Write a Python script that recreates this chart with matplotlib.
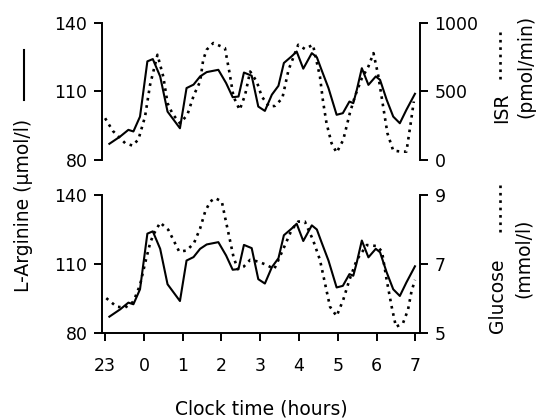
"""
plot.py
=======
L-arginine overnight profile against insulin secretion rate (top)
and plasma glucose (bottom).
"""

import matplotlib
matplotlib.use("Agg")
import matplotlib.pyplot as plt
from matplotlib.lines import Line2D

plt.rcParams["font.family"] = ["DejaVu Sans"]

# hours elapsed since 23:00
hour_ticks = [0, 1, 2, 3, 4, 5, 6, 7, 8]
hour_labels = ["23", "0", "1", "2", "3", "4", "5", "6", "7"]

# L-arginine (umol/l), same trace in both panels
arg_t = [0.11, 0.39, 0.60, 0.73, 0.90, 1.09, 1.23, 1.42, 1.61, 1.93, 2.10, 2.28,
         2.45, 2.62, 2.92, 3.12, 3.29, 3.44, 3.58, 3.78, 3.95, 4.12, 4.30, 4.47,
         4.61, 4.81, 4.94, 5.11, 5.33, 5.46, 5.58, 5.76, 5.97, 6.13, 6.30, 6.40,
         6.49, 6.62, 6.79, 6.98, 7.09, 7.26, 7.43, 7.60, 7.77, 7.99]
arginine = [87.1, 90.3, 93.2, 92.5, 99.0, 123.2, 124.2, 116.6, 101.2, 93.9, 111.5,
            113.0, 116.6, 118.5, 119.5, 113.7, 107.5, 107.8, 118.3, 116.9, 103.4,
            101.5, 108.6, 112.5, 122.5, 125.4, 127.5, 120.0, 126.8, 125.0, 119.5,
            111.5, 99.8, 100.5, 105.6, 104.9, 110.7, 120.2, 112.9, 116.6, 115.1,
            106.4, 99.0, 96.1, 102.0, 109.0]

# insulin secretion rate (pmol/min)
isr_t = [0.00, 0.20, 0.52, 0.71, 0.86, 1.03, 1.16, 1.35, 1.50, 1.61, 1.74, 1.93,
         2.12, 2.29, 2.45, 2.53, 2.62, 2.79, 3.09, 3.21, 3.31, 3.47, 3.61, 3.74,
         3.91, 4.04, 4.23, 4.38, 4.57, 4.73, 4.98, 5.15, 5.36, 5.54, 5.62, 5.71,
         5.84, 5.97, 6.14, 6.31, 6.44, 6.62, 6.79, 6.92, 7.04, 7.17, 7.28, 7.43,
         7.65, 7.77, 7.88, 7.96]
isr = [305, 212, 122, 105, 151, 317, 549, 768, 609, 415, 336, 268, 329, 475, 573,
       732, 805, 854, 817, 634, 463, 366, 475, 646, 573, 463, 390, 395, 451, 658,
       841, 810, 841, 609, 427, 268, 122, 54, 146, 341, 463, 597, 683, 780, 622,
       390, 195, 68, 61, 61, 268, 427]

# plasma glucose (mmol/l)
glu_t = [0.03, 0.30, 0.52, 0.73, 0.90, 1.03, 1.16, 1.24, 1.42, 1.63, 1.76, 1.91,
         2.10, 2.29, 2.45, 2.58, 2.71, 2.84, 3.01, 3.09, 3.21, 3.31, 3.42, 3.57,
         3.74, 3.95, 4.17, 4.36, 4.47, 4.64, 4.81, 4.98, 5.15, 5.36, 5.54, 5.67,
         5.80, 5.97, 6.14, 6.30, 6.49, 6.75, 7.01, 7.14, 7.26, 7.39, 7.50, 7.68,
         7.81, 7.90, 7.99]
glucose = [6.01, 5.76, 5.74, 5.91, 6.39, 7.02, 7.60, 7.84, 8.20, 7.99, 7.70, 7.36,
           7.39, 7.60, 8.03, 8.52, 8.81, 8.91, 8.81, 8.37, 7.74, 7.21, 6.85, 6.92,
           7.12, 7.07, 6.97, 6.85, 7.12, 7.55, 7.99, 8.23, 8.23, 7.70, 7.12, 6.44,
           5.76, 5.49, 5.96, 6.54, 7.12, 7.55, 7.52, 7.36, 6.54, 5.76, 5.18, 5.28,
           5.67, 6.20, 6.54]

W, H = 536, 419
DOT = (0, (1, 1.8))
DOT_W = 1.9
SOLID_W = 1.5
SPINE_W = 1.4


def style_axis(ax, side, bottom=False):
    """Keep only the wanted spines, ticks pointing outward."""
    for name, sp in ax.spines.items():
        sp.set_visible(name == side or (bottom and name == "bottom"))
        sp.set_linewidth(SPINE_W)
    ax.tick_params(axis="y", direction="out", length=5.5, width=SPINE_W,
                   pad=5, labelsize=12.5, left=(side == "left"),
                   labelleft=(side == "left"), right=(side == "right"),
                   labelright=(side == "right"))
    ax.tick_params(axis="x", bottom=bottom, labelbottom=bottom,
                   direction="out", length=6, width=SPINE_W, pad=11,
                   labelsize=12.5)


fig = plt.figure(figsize=(W / 100, H / 100), dpi=100)
left, width = 102 / W, (420 - 102) / W
ax_top = fig.add_axes([left, 1 - 160 / H, width, 137 / H])
ax_bot = fig.add_axes([left, 1 - 333 / H, width, 138 / H])

for ax, t2, y2, lim2, ticks2 in [
        (ax_top, isr_t, isr, (0, 1000), [0, 500, 1000]),
        (ax_bot, glu_t, glucose, (5, 9), [5, 7, 9])]:
    ax.plot(arg_t, arginine, color="black", linewidth=SOLID_W)
    ax.set_ylim(80, 140)
    ax.set_yticks([80, 110, 140])
    ax.set_xlim(-0.08, 8.12)
    ax.set_xticks(hour_ticks)
    ax.set_xticklabels(hour_labels)

    ax2 = ax.twinx()
    ax2.plot(t2, y2, color="black", linewidth=DOT_W, linestyle=DOT)
    ax2.set_ylim(*lim2)
    ax2.set_yticks(ticks2)

    is_bottom = ax is ax_bot
    style_axis(ax, "left", bottom=is_bottom)
    style_axis(ax2, "right", bottom=False)
    if is_bottom:
        ax.spines["bottom"].set_visible(True)
        ax2.spines["bottom"].set_visible(False)

# axis titles with little line-style keys
fig.text(24 / W, 1 - 205 / H, "L-Arginine (\u03bcmol/l)", rotation=90,
         ha="center", va="center", fontsize=13.5)
fig.add_artist(Line2D([24 / W, 24 / W], [1 - 50 / H, 1 - 100 / H],
                      color="black", linewidth=SOLID_W))

fig.text(502 / W, 1 - 108 / H, "ISR", rotation=90,
         ha="center", va="center", fontsize=13.5)
fig.add_artist(Line2D([500 / W, 500 / W], [1 - 32 / H, 1 - 82 / H],
                      color="black", linewidth=DOT_W, linestyle=DOT))
fig.text(526 / W, 1 - 66 / H, "(pmol/min)", rotation=90,
         ha="center", va="center", fontsize=13.5)

fig.text(497 / W, 1 - 296 / H, "Glucose", rotation=90,
         ha="center", va="center", fontsize=13.5)
fig.add_artist(Line2D([500 / W, 500 / W], [1 - 185 / H, 1 - 233 / H],
                      color="black", linewidth=DOT_W, linestyle=DOT))
fig.text(523 / W, 1 - 258 / H, "(mmol/l)", rotation=90,
         ha="center", va="center", fontsize=13.5)

fig.text(261 / W, 1 - 409 / H, "Clock time (hours)",
         ha="center", va="center", fontsize=13.5)

fig.savefig("out.png", dpi=100, facecolor="white")
plt.close(fig)
